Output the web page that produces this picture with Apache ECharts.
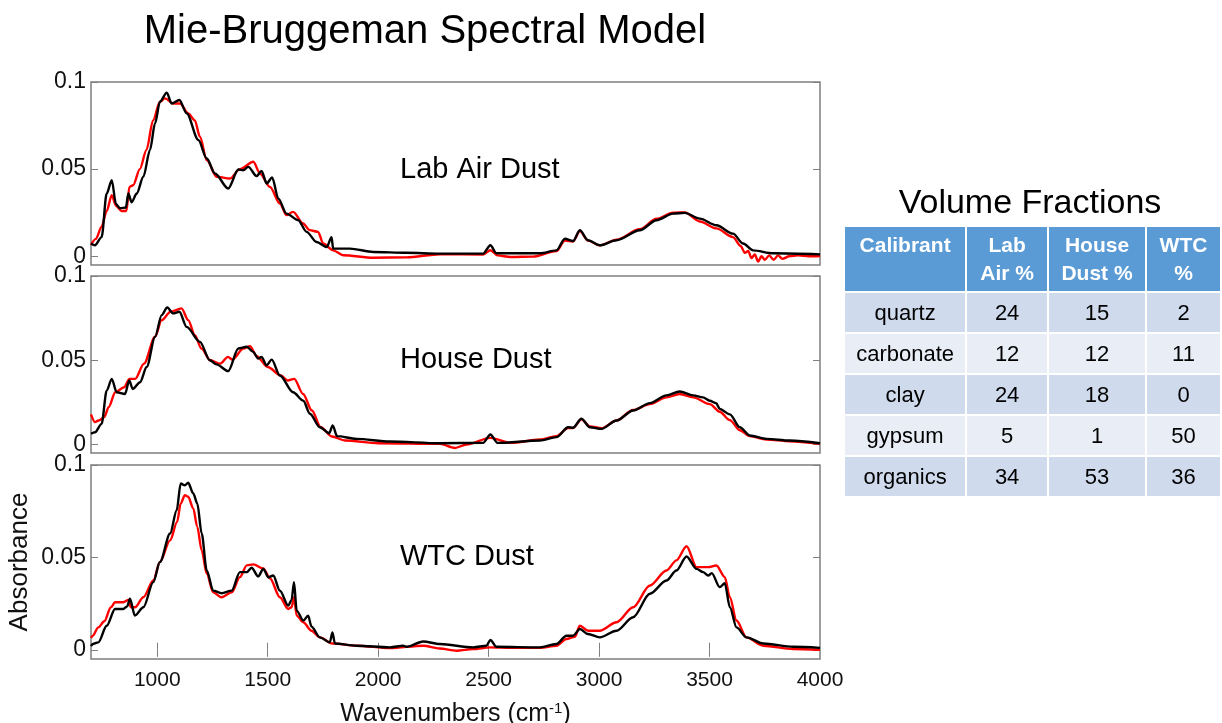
<!DOCTYPE html>
<html>
<head>
<meta charset="utf-8">
<title>Mie-Bruggeman Spectral Model</title>
<script src="https://cdn.jsdelivr.net/npm/echarts@6.0.0/dist/echarts.min.js"></script>
<style>
  body { margin: 0; background: #fff; overflow: hidden; }
  #wrap { position: relative; width: 1222px; height: 723px; overflow: hidden; }
  #chart { width: 1222px; height: 723px; }
  #fractions {
    position: absolute; left: 843px; top: 225px;
    border-collapse: collapse; table-layout: fixed;
    font-family: "Liberation Sans", Arial, sans-serif;
  }
  #fractions th, #fractions td { border: 2px solid #fff; text-align: center; padding: 0; }
  #fractions th {
    background: #5b9bd5; color: #fff; font-weight: bold; font-size: 21px;
    line-height: 28px; vertical-align: top; padding-top: 4px; height: 60px;
  }
  #fractions td { font-size: 22px; color: #000; height: 39px; }
  #fractions tr.dark td { background: #cfdaec; }
  #fractions tr.light td { background: #e9eef6; }
</style>
</head>
<body>
<div id="wrap">
  <div id="chart"></div>
  <table id="fractions"></table>
</div>
<script>
// spectra: [wavenumber, absorbance], red = measured, black = model
const labRed = [[700,0.0065],[722,0.010],[748,0.017],[771,0.026],[794,0.035],[813,0.029],[838,0.026],[860,0.026],[874,0.0398],[891,0.0408],[921,0.050],[951,0.061],[981,0.078],[1012,0.0887],[1035,0.0906],[1072,0.0877],[1103,0.0877],[1140,0.082],[1170,0.078],[1193,0.0686],[1224,0.0552],[1269,0.0456],[1329,0.0446],[1374,0.050],[1435,0.0542],[1465,0.0475],[1510,0.0398],[1555,0.0303],[1585,0.0236],[1615,0.0255],[1660,0.0188],[1690,0.015],[1728,0.014],[1751,0.0073],[1796,0.0034],[1842,0.0006],[1978,-0.0008],[2128,-0.0006],[2279,0.0012],[2475,0.001],[2508,0.0035],[2540,0.0005],[2600,-0.0004],[2700,-0.0002],[2807,0.003],[2845,0.009],[2882,0.0085],[2913,0.0145],[2950,0.009],[3003,0.0063],[3079,0.0095],[3184,0.0155],[3260,0.0215],[3335,0.025],[3388,0.0252],[3456,0.020],[3531,0.016],[3606,0.011],[3640,0.006],[3660,0.002],[3675,0.003],[3690,-0.001],[3705,0.001],[3720,-0.003],[3735,0.000],[3750,-0.002],[3770,0.0005],[3790,-0.002],[3810,0.0005],[3830,-0.0015],[3860,0.000],[3900,0.0005],[3950,0.000],[4000,0.0002]];
const labBlack = [[700,0.0073],[718,0.0063],[748,0.011],[771,0.036],[794,0.0437],[813,0.030],[831,0.0276],[858,0.028],[869,0.036],[884,0.031],[907,0.036],[937,0.0456],[967,0.061],[990,0.0763],[1012,0.0887],[1043,0.0939],[1065,0.0877],[1100,0.0897],[1133,0.082],[1186,0.0667],[1224,0.0561],[1261,0.0475],[1321,0.0389],[1367,0.0498],[1389,0.0494],[1412,0.0513],[1450,0.046],[1472,0.049],[1495,0.0418],[1520,0.0452],[1548,0.0331],[1585,0.0245],[1638,0.0207],[1676,0.014],[1721,0.0082],[1767,0.0053],[1789,0.011],[1796,0.0044],[1872,0.0044],[1978,0.0025],[2128,0.002],[2279,0.0015],[2475,0.0015],[2508,0.0063],[2535,0.0017],[2732,0.0017],[2807,0.0034],[2845,0.0101],[2882,0.0088],[2913,0.0149],[2950,0.0092],[3003,0.0063],[3079,0.0092],[3184,0.0149],[3260,0.0207],[3335,0.0245],[3388,0.0249],[3456,0.0216],[3531,0.0178],[3606,0.013],[3652,0.0073],[3697,0.0034],[3787,0.0017],[4000,0.0011]];
const houseRed = [[700,0.0179],[718,0.0133],[735,0.0143],[760,0.0163],[780,0.0222],[810,0.031],[850,0.034],[874,0.039],[900,0.039],[940,0.048],[990,0.064],[1020,0.0738],[1060,0.0788],[1110,0.0808],[1140,0.0738],[1170,0.0649],[1200,0.057],[1240,0.050],[1285,0.048],[1320,0.052],[1340,0.0504],[1390,0.057],[1420,0.0583],[1450,0.0524],[1500,0.046],[1560,0.041],[1590,0.038],[1620,0.039],[1660,0.030],[1700,0.0202],[1740,0.0103],[1790,0.0048],[1850,0.0024],[2000,0.0008],[2279,0.0004],[2347,-0.002],[2400,0.0],[2508,0.004],[2600,0.001],[2732,0.003],[2807,0.005],[2860,0.0098],[2882,0.0098],[2920,0.015],[2958,0.0108],[3011,0.0097],[3079,0.0143],[3154,0.0205],[3230,0.024],[3305,0.028],[3365,0.030],[3426,0.028],[3501,0.024],[3546,0.0195],[3592,0.0145],[3637,0.0085],[3682,0.005],[3758,0.003],[3863,0.002],[4000,0.0005]];
const houseBlack = [[700,0.0064],[718,0.0073],[748,0.0123],[771,0.032],[794,0.039],[816,0.031],[854,0.030],[873,0.038],[889,0.033],[922,0.037],[952,0.046],[990,0.0639],[1020,0.0768],[1045,0.0813],[1072,0.0778],[1100,0.0788],[1133,0.0698],[1193,0.0609],[1238,0.050],[1268,0.0476],[1321,0.0436],[1367,0.057],[1405,0.058],[1434,0.055],[1457,0.051],[1472,0.052],[1495,0.047],[1518,0.0504],[1555,0.041],[1615,0.031],[1661,0.026],[1691,0.0183],[1736,0.0103],[1778,0.0067],[1794,0.0113],[1814,0.005],[1902,0.0034],[2053,0.0018],[2279,0.0008],[2475,0.001],[2508,0.006],[2540,0.001],[2732,0.0024],[2807,0.0044],[2860,0.0103],[2882,0.010],[2920,0.0153],[2958,0.0103],[3011,0.0093],[3079,0.0143],[3154,0.0202],[3230,0.0246],[3305,0.0292],[3365,0.0315],[3426,0.0292],[3470,0.028],[3501,0.026],[3530,0.0245],[3546,0.0212],[3592,0.0179],[3637,0.0103],[3682,0.0054],[3758,0.0034],[3863,0.0024],[4000,0.0008]];
const wtcRed = [[700,0.0065],[708,0.0076],[733,0.0121],[760,0.0154],[790,0.023],[809,0.0257],[846,0.0257],[870,0.027],[880,0.023],[899,0.023],[937,0.0284],[982,0.0375],[1012,0.0475],[1058,0.0592],[1090,0.0692],[1106,0.0792],[1125,0.0837],[1140,0.0828],[1163,0.0765],[1181,0.0665],[1201,0.0538],[1224,0.0411],[1253,0.0311],[1291,0.0284],[1337,0.0311],[1374,0.0393],[1405,0.0457],[1435,0.0462],[1480,0.044],[1510,0.0387],[1555,0.0284],[1593,0.0221],[1608,0.023],[1619,0.0284],[1631,0.0185],[1661,0.0149],[1698,0.0103],[1736,0.0067],[1793,0.0034],[1902,0.0022],[2053,0.0009],[2204,0.0022],[2279,0.0007],[2355,-0.0005],[2430,0.0004],[2508,0.0013],[2600,0.001],[2732,0.001],[2807,0.0022],[2852,0.0058],[2890,0.007],[2913,0.013],[2950,0.0103],[3003,0.0103],[3079,0.0149],[3154,0.023],[3230,0.0348],[3305,0.0429],[3350,0.0484],[3396,0.056],[3441,0.0447],[3494,0.0447],[3531,0.0456],[3569,0.0393],[3592,0.0284],[3622,0.0158],[3667,0.0067],[3743,0.0022],[3878,0.0004],[4000,0.0]];
const wtcBlack = [[700,0.002],[708,0.0031],[733,0.004],[771,0.013],[809,0.0221],[846,0.0221],[864,0.0235],[876,0.0276],[899,0.0185],[937,0.023],[982,0.0366],[1012,0.0475],[1058,0.0629],[1088,0.0755],[1106,0.090],[1125,0.089],[1140,0.0904],[1163,0.0846],[1181,0.0792],[1201,0.0629],[1224,0.0429],[1253,0.032],[1291,0.0306],[1337,0.032],[1374,0.042],[1405,0.042],[1427,0.0444],[1457,0.0397],[1480,0.0438],[1503,0.0392],[1525,0.0402],[1555,0.032],[1593,0.0239],[1608,0.027],[1619,0.0366],[1631,0.0212],[1661,0.0158],[1683,0.0185],[1698,0.0125],[1736,0.0067],[1781,0.004],[1793,0.0094],[1804,0.0034],[1902,0.0022],[2053,0.0013],[2113,0.0022],[2128,0.0016],[2204,0.0045],[2279,0.0031],[2430,0.0013],[2490,0.0022],[2508,0.0053],[2535,0.0016],[2732,0.0013],[2807,0.0031],[2852,0.0076],[2882,0.0076],[2913,0.0112],[2950,0.0085],[3003,0.0067],[3079,0.0103],[3154,0.0176],[3230,0.0303],[3305,0.0375],[3350,0.0429],[3396,0.0505],[3441,0.0438],[3471,0.042],[3494,0.0402],[3510,0.0415],[3546,0.0339],[3569,0.036],[3592,0.023],[3622,0.0121],[3667,0.0067],[3743,0.0034],[3878,0.0016],[4000,0.001]];

const panelNames = ["Lab Air Dust", "House Dust", "WTC Dust"];
const xTicks = [1000, 1500, 2000, 2500, 3000, 3500, 4000];
const yTicks = [0, 0.05, 0.1];

// volume fractions table
const tableHeaders = ["Calibrant", "Lab<br>Air %", "House<br>Dust %", "WTC<br>%"];
const calibrants = ["quartz", "carbonate", "clay", "gypsum", "organics"];
const labAirPct = [24, 12, 24, 5, 34];
const houseDustPct = [15, 12, 18, 1, 53];
const wtcPct = [2, 11, 0, 50, 36];

const FONT = '"Liberation Sans", Arial, sans-serif';
const GRAY = "#7f7f7f";

// build the table
const colWidths = [125, 87, 102, 78];
let html = "<colgroup>" + colWidths.map(w => '<col style="width:' + w + 'px">').join("") + "</colgroup>";
html += "<tr>" + tableHeaders.map(h => "<th>" + h + "</th>").join("") + "</tr>";
calibrants.forEach((c, i) => {
  html += '<tr class="' + (i % 2 === 0 ? "dark" : "light") + '"><td>' + c + "</td><td>" + labAirPct[i] +
    "</td><td>" + houseDustPct[i] + "</td><td>" + wtcPct[i] + "</td></tr>";
});
document.getElementById("fractions").innerHTML = html;

const chart = echarts.init(document.getElementById("chart"));

const grids = [
  { left: 91, width: 729, top: 82, height: 183 },
  { left: 91, width: 729, top: 276, height: 177 },
  { left: 91, width: 729, top: 465, height: 194 },
].map(g => Object.assign(g, {
  show: true, borderColor: GRAY, borderWidth: 1.5, backgroundColor: "transparent",
  containLabel: false, outerBoundsMode: "none",
}));

const xAxes = [0, 1, 2].map(i => ({
  type: "value",
  gridIndex: i,
  min: 700,
  max: 4000,
  axisLine: { show: false },
  splitLine: { show: false },
  axisTick: { show: i === 2, inside: true, length: 7, lineStyle: { color: GRAY }, customValues: xTicks.slice(0, 6) },
  axisLabel: {
    show: i === 2, customValues: xTicks, margin: 11, fontSize: 21, color: "#111", fontFamily: FONT,
    formatter: v => String(v),
  },
  name: i === 2 ? "{a|Wavenumbers (cm}{s|-1}{a|)}" : "",
  nameLocation: "middle",
  nameGap: 42,
  nameMoveOverlap: false,
  nameTextStyle: {
    rich: {
      a: { fontSize: 25, fontFamily: FONT, color: "#111" },
      s: { fontSize: 15, fontFamily: FONT, color: "#111", verticalAlign: "top", padding: [0, 0, 12, 0] },
    },
  },
}));
// mirror ticks along the top of the bottom panel
xAxes.push({
  type: "value",
  gridIndex: 2,
  position: "top",
  min: 700,
  max: 4000,
  axisLine: { show: false },
  splitLine: { show: false },
  axisTick: { show: true, inside: true, length: 7, lineStyle: { color: GRAY }, customValues: xTicks.slice(0, 6) },
  axisLabel: { show: false },
});

const yAxes = [];
[0, 1, 2].forEach(i => {
  yAxes.push({
    type: "value",
    gridIndex: i,
    position: "left",
    min: -0.005,
    max: 0.1,
    axisLine: { show: false },
    splitLine: { show: false },
    axisTick: { show: true, inside: true, length: 7, lineStyle: { color: GRAY }, customValues: yTicks },
    axisLabel: {
      customValues: yTicks, margin: 5, fontSize: 23, color: "#111", fontFamily: FONT,
      formatter: v => (v === 0 ? "0" : String(+v.toFixed(2))),
    },
    name: i === 2 ? "Absorbance" : "",
    nameLocation: "middle",
    nameGap: 58,
    nameMoveOverlap: false,
    nameTextStyle: { fontSize: 26, fontFamily: FONT, color: "#111" },
  });
});
[0, 1, 2].forEach(i => {
  yAxes.push({
    type: "value",
    gridIndex: i,
    position: "right",
    min: -0.005,
    max: 0.1,
    axisLine: { show: false },
    splitLine: { show: false },
    axisTick: { show: true, inside: true, length: 7, lineStyle: { color: GRAY }, customValues: yTicks },
    axisLabel: { show: false },
  });
});

function spectrum(data, color, idx) {
  return {
    type: "line",
    data: data,
    xAxisIndex: idx,
    yAxisIndex: idx,
    showSymbol: false,
    smooth: 0.3,
    smoothMonotone: "x",
    lineStyle: { color: color, width: 2.4 },
    itemStyle: { color: color },
    silent: true,
  };
}

const labelY = [170, 360, 557];

chart.setOption({
  animation: false,
  textStyle: { fontFamily: FONT },
  grid: grids,
  xAxis: xAxes,
  yAxis: yAxes,
  series: [
    spectrum(labRed, "#ff0000", 0),
    spectrum(labBlack, "#000000", 0),
    spectrum(houseRed, "#ff0000", 1),
    spectrum(houseBlack, "#000000", 1),
    spectrum(wtcRed, "#ff0000", 2),
    spectrum(wtcBlack, "#000000", 2),
  ],
  graphic: [
    {
      type: "text", x: 425, y: 32,
      style: { text: "Mie-Bruggeman Spectral Model", font: "40px " + FONT, fill: "#000", align: "center", verticalAlign: "middle" },
    },
    {
      type: "text", x: 1030, y: 204,
      style: { text: "Volume Fractions", font: "34px " + FONT, fill: "#000", align: "center", verticalAlign: "middle" },
    },
  ].concat(panelNames.map((n, i) => ({
    type: "text", x: 400, y: labelY[i],
    style: { text: n, font: "29px " + FONT, fill: "#000", align: "left", verticalAlign: "middle" },
  }))),
});
</script>
</body>
</html>
